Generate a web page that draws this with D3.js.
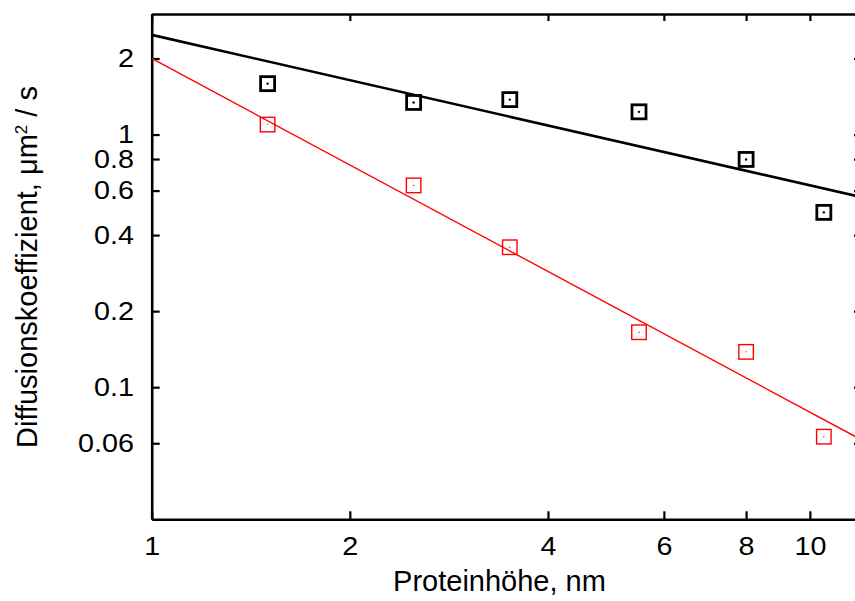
<!DOCTYPE html>
<html>
<head>
<meta charset="utf-8">
<script src="https://cdn.jsdelivr.net/npm/d3@7"></script>
<style>
body { margin: 0; background: #fff; }
text { font-family: "Liberation Sans", Arial, sans-serif; }
</style>
</head>
<body>
<script>
// protein height (nm) and diffusion coefficients (um^2/s)
var heights = [1.5, 2.5, 3.5, 5.5, 8, 10.5];
var diffBlack = [1.59, 1.34, 1.375, 1.23, 0.797, 0.492];
var diffRed = [1.095, 0.629, 0.358, 0.165, 0.138, 0.0637];

// power-law fit lines, given by their end points
var fitBlack = [[1, 2.48], [12, 0.565]];
var fitRed = [[1, 2.0], [12, 0.0617]];

var xTicks = [1, 2, 4, 6, 8, 10];
var yTicks = [0.06, 0.1, 0.2, 0.4, 0.6, 0.8, 1, 2];

var width = 855,
    height = 601;

//plot frame (right edge lies just past the window)
var pLeft = 151.7, pRight = 862, pTop = 14, pBottom = 519.3;

//tick labels in the original are a little wide, so stretch them
var stretch = 1.15;

var svg = d3.select("body")
    .append("svg")
    .attr("width", width)
    .attr("height", height);

var x = d3.scaleLog()
    .domain([1, 12])
    .range([pLeft, pRight]);

var y = d3.scaleLog()
    .domain([0.03, 3])
    .range([pBottom, pTop]);

svg.append("defs").append("clipPath")
    .attr("id", "plotClip")
    .append("rect")
    .attr("x", pLeft)
    .attr("y", pTop)
    .attr("width", pRight - pLeft)
    .attr("height", pBottom - pTop);

var fmt = function(d) { return String(d); };

//axes, ticks pointing inward
var xAxis = svg.append("g")
    .attr("transform", "translate(0," + pBottom + ")")
    .call(d3.axisBottom(x).tickValues(xTicks).tickFormat(fmt).tickSizeInner(-8).tickSizeOuter(0).tickPadding(18));

svg.append("g")
    .attr("transform", "translate(0," + pTop + ")")
    .call(d3.axisTop(x).tickValues(xTicks).tickFormat("").tickSizeInner(-7).tickSizeOuter(0));

var yAxis = svg.append("g")
    .attr("transform", "translate(" + pLeft + ",0)")
    .call(d3.axisLeft(y).tickValues(yTicks).tickFormat(fmt).tickSizeInner(-8).tickSizeOuter(0).tickPadding(17.7 / stretch));

svg.append("g")
    .attr("transform", "translate(" + pRight + ",0)")
    .call(d3.axisRight(y).tickValues(yTicks).tickFormat("").tickSizeInner(-8).tickSizeOuter(0));

svg.selectAll(".domain")
    .attr("stroke", "#000")
    .attr("stroke-width", 2.6);
svg.selectAll(".tick line")
    .attr("stroke", "#000")
    .attr("stroke-width", 2.2);

xAxis.attr("font-size", 25).attr("font-family", null);
yAxis.attr("font-size", 25).attr("font-family", null);
svg.selectAll(".tick text")
    .attr("fill", "#000")
    .attr("transform", "scale(" + stretch + ",1)");

//fit lines
var line = d3.line()
    .x(function(d) { return x(d[0]); })
    .y(function(d) { return y(d[1]); });

var plot = svg.append("g").attr("clip-path", "url(#plotClip)");

plot.append("path")
    .datum(fitBlack)
    .attr("fill", "none")
    .attr("stroke", "#000")
    .attr("stroke-width", 2.6)
    .attr("d", line);

plot.append("path")
    .datum(fitRed)
    .attr("fill", "none")
    .attr("stroke", "#ff0000")
    .attr("stroke-width", 1.4)
    .attr("d", line);

//square markers with a dot in the middle
function drawSquares(values, color, size, sw, dot) {
    var g = svg.append("g");
    g.selectAll("rect.sq")
        .data(values)
        .enter()
        .append("rect")
        .attr("class", "sq")
        .attr("x", function(d, i) { return x(heights[i]) - size / 2; })
        .attr("y", function(d) { return y(d) - size / 2; })
        .attr("width", size)
        .attr("height", size)
        .attr("fill", "none")
        .attr("stroke", color)
        .attr("stroke-width", sw);
    g.selectAll("circle.dot")
        .data(values)
        .enter()
        .append("circle")
        .attr("class", "dot")
        .attr("cx", function(d, i) { return x(heights[i]); })
        .attr("cy", function(d) { return y(d); })
        .attr("r", dot)
        .attr("fill", color);
}

drawSquares(diffBlack, "#000", 14, 2.8, 1.2);
drawSquares(diffRed, "#ff0000", 14.5, 1.4, 0.7);

//axis titles
svg.append("text")
    .attr("x", 499.5)
    .attr("y", 591)
    .attr("text-anchor", "middle")
    .style("font-size", "29px")
    .text("Proteinhöhe, nm");

var yt = svg.append("text")
    .attr("transform", "translate(37,267) rotate(-90)")
    .attr("text-anchor", "middle")
    .style("font-size", "29px");
yt.append("tspan").text("Diffusionskoeffizient, μm");
yt.append("tspan").attr("dy", -10).style("font-size", "17px").text("2");
yt.append("tspan").attr("dy", 10).text(" / s");
</script>
</body>
</html>
